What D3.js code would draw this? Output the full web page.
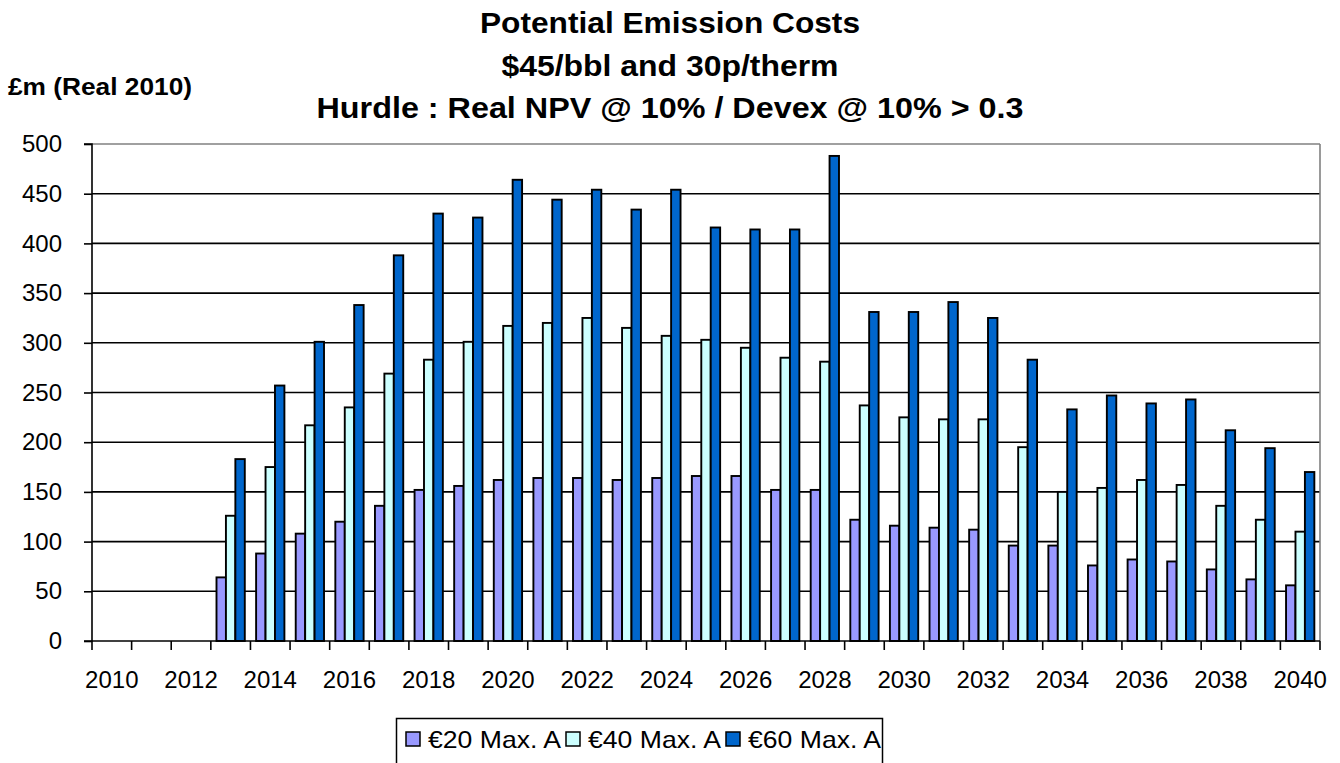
<!DOCTYPE html>
<html>
<head>
<meta charset="utf-8">
<script src="https://cdn.jsdelivr.net/npm/d3@7"></script>
<style>
  body { margin: 0; background: #fff; }
  svg { display: block; }
  text { font-family: "Liberation Sans", Arial, sans-serif; fill: #000; }
</style>
</head>
<body>
<svg id="chart" width="1340" height="763"></svg>
<script>
const years = d3.range(2010, 2041);
const seriesNames = ["€20 Max. A", "€40 Max. A", "€60 Max. A"];
const seriesColors = ["#9999FF", "#CCFFFF", "#0066CC"];
const e20 = [0,0,0,64,88,108,120,136,152,156,162,164,164,162,164,166,166,152,152,122,116,114,112,96,96,76,82,80,72,62,56];
const e40 = [0,0,0,126,175,217,235,269,283,301,317,320,325,315,307,303,295,285,281,237,225,223,223,195,150,154,162,157,136,122,110];
const e60 = [0,0,0,183,257,301,338,388,430,426,464,444,454,434,454,416,414,414,488,331,331,341,325,283,233,247,239,243,212,194,170];
const yTicks = [0,50,100,150,200,250,300,350,400,450,500];
const xTickLabels = years.filter(y => y % 2 === 0);
const titleLines = ["Potential Emission Costs", "$45/bbl and 30p/therm", "Hurdle : Real NPV @ 10%  /  Devex @ 10% > 0.3"];
const yAxisTitle = "£m (Real 2010)";

const seriesData = [e20, e40, e60];
const svg = d3.select("#chart");
const L = 92, R = 1320, T = 144, B = 641;

const x0 = d3.scaleBand().domain(years).range([L, R]).paddingInner(0).paddingOuter(0);
const x1 = d3.scaleBand().domain(d3.range(3)).range([0, x0.bandwidth()]).paddingInner(0).paddingOuter(0.6);
const y = d3.scaleLinear().domain([0, 500]).range([B, T]);

// gridlines
svg.append("g").selectAll("line").data(yTicks.filter(v => v > 0 && v < 500)).join("line")
  .attr("x1", L).attr("x2", R).attr("y1", d => y(d)).attr("y2", d => y(d))
  .attr("stroke", "#000").attr("stroke-width", 1.6);
// plot border top & right (gray)
svg.append("line").attr("x1", L).attr("x2", R).attr("y1", y(500)).attr("y2", y(500)).attr("stroke", "#808080").attr("stroke-width", 1.6);
svg.append("line").attr("x1", R).attr("x2", R).attr("y1", T).attr("y2", B).attr("stroke", "#808080").attr("stroke-width", 1.6);

// bars
const g = svg.append("g");
seriesData.forEach((vals, si) => {
  g.append("g").selectAll("rect").data(years.map((yr, i) => ({yr, v: vals[i]})).filter(d => d.v > 0)).join("rect")
    .attr("x", d => x0(d.yr) + x1(si))
    .attr("y", d => y(d.v))
    .attr("width", x1.bandwidth())
    .attr("height", d => B - y(d.v))
    .attr("fill", seriesColors[si])
    .attr("stroke", "#000").attr("stroke-width", 1.9);
});

// y axis
const yAxis = d3.axisLeft(y).tickValues(yTicks).tickSize(8).tickPadding(22).tickFormat(d3.format("d"));
const ya = svg.append("g").attr("transform", `translate(${L},0)`).call(yAxis);
ya.select(".domain").attr("stroke", "#000").attr("stroke-width", 1.6).attr("d", `M-8,${T}H0V${B}H-8`);
ya.selectAll(".tick line").attr("stroke", "#000").attr("stroke-width", 1.6);
ya.selectAll(".tick text").style("font-size", "24px").attr("fill", "#000").attr("font-family", "Liberation Sans, Arial, sans-serif");

// x axis
const xAxis = d3.axisBottom(x0).tickValues(xTickLabels).tickSize(0).tickPadding(30);
const xa = svg.append("g").attr("transform", `translate(0,${B})`).call(xAxis);
xa.select(".domain").attr("stroke", "#000").attr("stroke-width", 1.6).attr("d", `M${L},0H${R}`);
xa.selectAll(".tick text").style("font-size", "24px").attr("fill", "#000").attr("font-family", "Liberation Sans, Arial, sans-serif");
// boundary ticks
svg.append("g").selectAll("line").data(years.concat([2041])).join("line")
  .attr("x1", d => d === 2041 ? R : x0(d)).attr("x2", d => d === 2041 ? R : x0(d))
  .attr("y1", B).attr("y2", B + 9).attr("stroke", "#000").attr("stroke-width", 1.6);

// titles
const titleY = [33, 76, 118];
const titleW = [380, 337, 707];
titleLines.forEach((t, i) => {
  svg.append("text").attr("x", 670).attr("y", titleY[i]).attr("text-anchor", "middle")
    .attr("font-weight", "bold").style("font-size", "29px")
    .attr("textLength", titleW[i]).attr("lengthAdjust", "spacingAndGlyphs")
    .text(t);
});
svg.append("text").attr("x", 8).attr("y", 95).attr("font-weight", "bold").style("font-size", "23px")
  .attr("textLength", 184).attr("lengthAdjust", "spacingAndGlyphs").text(yAxisTitle);

// legend
const lg = svg.append("g");
lg.append("rect").attr("x", 396.5).attr("y", 718.5).attr("width", 486).attr("height", 60)
  .attr("fill", "#fff").attr("stroke", "#000").attr("stroke-width", 1.5);
seriesNames.forEach((n, i) => {
  const lx = 406 + i * 160;
  lg.append("rect").attr("x", lx).attr("y", 732).attr("width", 14).attr("height", 14)
    .attr("fill", seriesColors[i]).attr("stroke", "#000").attr("stroke-width", 1.5);
  lg.append("text").attr("x", lx + 22).attr("y", 748).style("font-size", "24px")
    .attr("textLength", 133).attr("lengthAdjust", "spacingAndGlyphs").text(n);
});
</script>
</body>
</html>
